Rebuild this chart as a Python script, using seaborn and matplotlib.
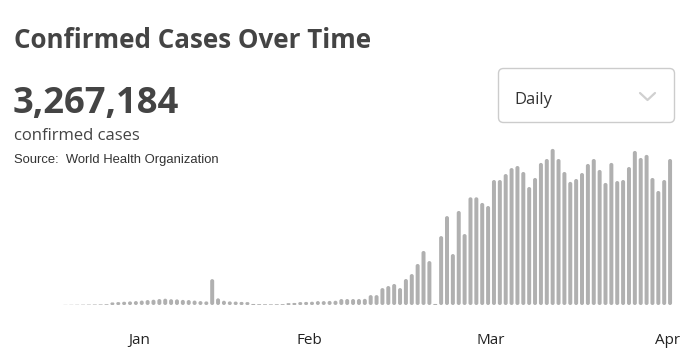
import datetime as dt

import matplotlib
matplotlib.use("Agg")
import matplotlib.pyplot as plt
from matplotlib.lines import Line2D
from matplotlib.patches import FancyBboxPatch
from matplotlib.transforms import IdentityTransform
import pandas as pd
import seaborn as sns

# daily new confirmed cases (one bar per day)
start_day = dt.date(2020, 1, 19)
daily_cases = [
    80, 120, 150, 200, 250, 300, 350, 450,
    1500, 1700, 1900, 2100, 2300, 2600, 2900, 3100, 3500, 3700, 3400, 3300,
    3000, 2900, 2600, 2300, 2100, 15141, 3900, 2500, 2100, 2000, 1800, 1700,
    600, 500, 450, 400, 450, 500, 1100, 1200, 1700, 1800, 1900, 2300, 2300,
    2400, 2500, 3500, 3500, 3500, 3500, 3600, 5800, 5800, 9900, 11100, 12300,
    9900, 15200, 18100, 24000, 31600, 25700, 600, 40300, 52000, 29800, 55000,
    41500, 63000, 63000, 59700, 57900, 73100, 73100, 76600, 80100, 81300,
    77800, 69000, 74300, 83100, 85400, 91300, 85400, 77800, 72000, 73700,
    77200, 82500, 85400, 79000, 71400, 83100, 72500, 73100, 80700, 90100,
    86000, 87800, 74300, 66700, 73100, 85400,
]
month_labels = ["Jan", "Feb", "Mar", "Apr"]
month_ends = [dt.date(2020, 2, 1), dt.date(2020, 3, 1), dt.date(2020, 4, 1), dt.date(2020, 5, 1)]

total_cases = "3,267,184"
bar_color = "#b0b0b0"
text_dark = "#444444"

days = [start_day + dt.timedelta(days=i) for i in range(len(daily_cases))]
df = pd.DataFrame({"day": [d.isoformat() for d in days], "cases": daily_cases})

sns.set_style("white")
plt.rcParams["font.family"] = ["Open Sans", "DejaVu Sans"]

W, H = 685, 356
fig = plt.figure(figsize=(W / 100, H / 100), dpi=100)
fig.patch.set_facecolor("white")

# chart area in pixels: bars from x=62.5 to 673, baseline at y=305
left_px, right_px, base_px, top_px = 62.5, 673.0, 305.0, 140.0
ax = fig.add_axes([left_px / W, (H - base_px) / H,
                   (right_px - left_px) / W, (base_px - top_px) / H])

sns.barplot(data=df, x="day", y="cases", color=bar_color, saturation=1,
            width=0.68, errorbar=None, ax=ax)
ax.set_xlim(-0.5, len(daily_cases) - 0.5)
ymax = 96500
ax.set_ylim(0, ymax)

# swap rectangles for rounded bars
px_per_x = (right_px - left_px) / len(daily_cases)
px_per_y = (base_px - top_px) / ymax
aspect = px_per_x / px_per_y
rad_x = 2.0 / px_per_x
for p in list(ax.patches):
    x, y = p.get_x(), p.get_y()
    w, h = p.get_width(), p.get_height()
    r = min(rad_x, h / aspect / 2)
    rb = FancyBboxPatch((x, y), w, h,
                        boxstyle=f"round,pad=0,rounding_size={r}",
                        mutation_aspect=aspect, facecolor=bar_color,
                        edgecolor="none", linewidth=0)
    p.remove()
    ax.add_patch(rb)

tick_pos = [(m - start_day).days - 0.5 for m in month_ends]
ax.set_xticks(tick_pos)
ax.set_xticklabels(month_labels, fontsize=11, color="#222222")
ax.tick_params(axis="x", length=0, pad=20)
ax.set_yticks([])
ax.set_xlabel("")
ax.set_ylabel("")
sns.despine(ax=ax, left=True, bottom=True)

# header texts
fig.text(14 / W, 1 - 48.5 / H, "Confirmed Cases Over Time", fontsize=18.7,
         fontweight="bold", color=text_dark, va="baseline")
fig.text(13 / W, 1 - 113.5 / H, total_cases, fontsize=26.2,
         fontweight="bold", color=text_dark, va="baseline")
fig.text(14 / W, 1 - 140 / H, "confirmed cases", fontsize=12,
         color=text_dark, va="baseline")
fig.text(14 / W, 1 - 163.5 / H, "Source:  World Health Organization",
         fontsize=9.4, color="#333333", va="baseline",
         family=["Liberation Sans", "DejaVu Sans"])

# dropdown box
box = FancyBboxPatch((498.5, H - 122.5), 176, 54,
                     boxstyle="round,pad=0,rounding_size=5",
                     transform=IdentityTransform(), facecolor="white",
                     edgecolor="#cccccc", linewidth=1.0)
fig.patches.append(box)
fig.text(514 / W, 1 - 104 / H, "Daily", fontsize=12, color="#333333",
         va="baseline")
fig.lines.append(Line2D([640, 647.5, 655], [H - 93, H - 100, H - 93],
                        transform=IdentityTransform(), color="#d0d0d0",
                        linewidth=1.6, solid_capstyle="round"))

fig.savefig("out.png", dpi=100, facecolor="white")
